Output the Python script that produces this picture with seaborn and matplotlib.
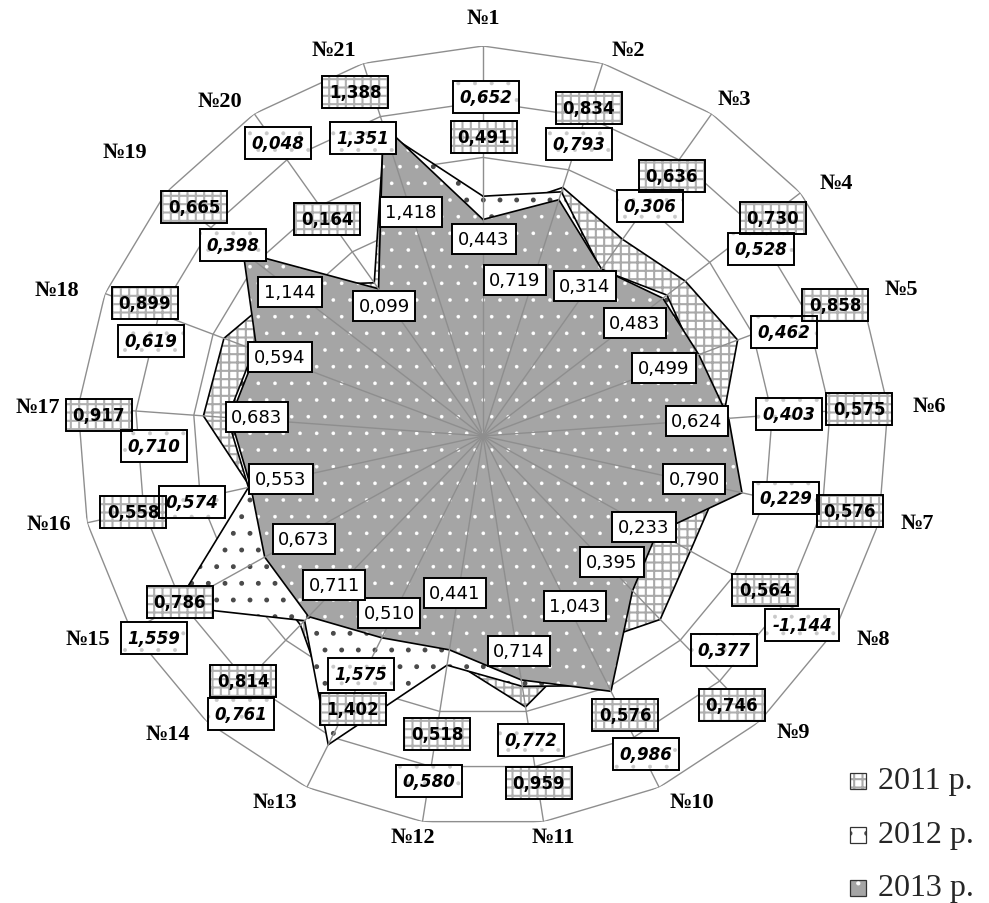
import numpy as np
import matplotlib
matplotlib.use("Agg")
import matplotlib.pyplot as plt
from matplotlib.patches import Rectangle
import seaborn as sns

# ---------------- data ----------------
categories = [f"№{i}" for i in range(1, 22)]
v2011 = [0.491, 0.834, 0.636, 0.730, 0.858, 0.575, 0.576, 0.564, 0.746, 0.576, 0.959,
         0.518, 1.402, 0.814, 0.786, 0.558, 0.917, 0.899, 0.665, 0.164, 1.388]
v2012 = [0.652, 0.793, 0.306, 0.528, 0.462, 0.403, 0.229, -1.144, 0.377, 0.986, 0.772,
         0.580, 1.575, 0.761, 1.559, 0.574, 0.710, 0.619, 0.398, 0.048, 1.351]
v2013 = [0.443, 0.719, 0.314, 0.483, 0.499, 0.624, 0.790, 0.233, 0.395, 1.043, 0.714,
         0.441, 0.510, 0.711, 0.673, 0.553, 0.683, 0.594, 1.144, 0.099, 1.418]
series_names = ["2011 р.", "2012 р.", "2013 р."]
r_min, r_max, r_step = -1.5, 2.0, 0.5

# ---------------- layout (pixel positions of annotations) ----------------
W, H = 989, 904
cx, cy, rx, ry = 483, 437, 406, 390
pos2013 = [(484, 240), (515, 281), (585, 287), (635, 324), (664, 369), (697, 422), (694, 480),
           (644, 528), (612, 563), (575, 607), (519, 652), (455, 594), (389, 614), (334, 586),
           (304, 540), (281, 480), (257, 418), (280, 358), (290, 293), (384, 307), (411, 213)]
pos2012 = [(486, 98), (579, 145), (650, 207), (761, 250), (784, 333), (789, 415), (786, 499),
           (802, 626), (724, 651), (646, 755), (531, 741), (429, 782), (361, 675), (241, 715),
           (154, 639), (192, 503), (154, 447), (151, 342), (233, 246), (278, 144), (363, 139)]
pos2011 = [(484, 138), (589, 109), (672, 177), (773, 219), (835, 306), (859, 410), (850, 512),
           (765, 591), (732, 706), (625, 716), (539, 784), (437, 735), (353, 710), (243, 682),
           (180, 603), (133, 513), (99, 416), (145, 304), (194, 208), (327, 220), (355, 93)]
cat_pos = [(483, 19), (628, 51), (734, 100), (836, 184), (901, 290), (929, 407), (917, 524),
           (873, 640), (793, 733), (692, 803), (553, 838), (413, 838), (275, 803), (168, 735),
           (88, 640), (49, 525), (38, 408), (57, 291), (125, 153), (220, 102), (334, 51)]

sns.set_style("white")
plt.rcParams["font.family"] = ["DejaVu Sans"]

fig = plt.figure(figsize=(W / 100, H / 100), dpi=100)
fig.patch.set_facecolor("white")

ax = fig.add_axes([(cx - rx) / W, (H - cy - ry) / H, 2 * rx / W, 2 * ry / H],
                  projection="polar")
ax.set_aspect("auto")
ax.set_theta_zero_location("N")
ax.set_theta_direction(-1)
ax.patch.set_alpha(0)
ax.spines["polar"].set_visible(False)
ax.grid(False)

n = len(categories)
theta = np.linspace(0, 2 * np.pi, n + 1)
grid_col = "#8e8e8e"

# rings (value gridlines)
for rv in np.arange(r_min + r_step, r_max + 1e-9, r_step):
    ax.plot(theta, np.full(n + 1, rv), color=grid_col, lw=1.0, zorder=1)

styles = [
    dict(fc="white", hc="#a9a9a9", hatch="++", hlw=1.5),
    dict(fc="white", hc="#4a4a4a", hatch=".", hlw=1.1),
    dict(fc="#a5a5a5", hc="white", hatch=".", hlw=0.2),
]
for k, vals in enumerate([v2011, v2012, v2013]):
    rr = np.array(vals + vals[:1])
    st = styles[k]
    plt.rcParams["hatch.linewidth"] = st["hlw"]
    ax.fill(theta, rr, facecolor=st["fc"], edgecolor=st["hc"], hatch=st["hatch"],
            linewidth=0, zorder=2 + 2 * k)
    sns.lineplot(x=theta, y=rr, sort=False, estimator=None, color="black",
                 linewidth=1.2, ax=ax, zorder=3 + 2 * k)

# spokes on top
for t in theta[:-1]:
    ax.plot([t, t], [r_min, r_max], color=grid_col, lw=1.0, zorder=9)

ax.set_ylim(r_min, r_max)
ax.set_xticks([])
ax.set_yticks([])
ax.set_xlabel("")
ax.set_ylabel("")

# ---------------- overlay for annotations ----------------
ov = fig.add_axes([0, 0, 1, 1], zorder=5)
ov.set_xlim(0, W)
ov.set_ylim(H, 0)
ov.axis("off")
ov.patch.set_alpha(0)


def fmt(v):
    return f"{v:.3f}".replace(".", ",")


def box_label(x, y, s, weight, style, fs, pad, hatch=None, hcolor=None, hlw=1.0):
    kw = dict(ha="center", va="center", fontsize=fs, fontweight=weight,
              fontstyle=style, family="DejaVu Sans")
    if hatch:
        plt.rcParams["hatch.linewidth"] = hlw
        ov.text(x, y, s, color="none", zorder=10,
                bbox=dict(boxstyle=f"square,pad={pad}", fc="white", ec=hcolor,
                          hatch=hatch, lw=0), **kw)
        ov.text(x, y, s, color="black", zorder=11,
                bbox=dict(boxstyle=f"square,pad={pad}", fc="none", ec="black", lw=1.4), **kw)
    else:
        ov.text(x, y, s, color="black", zorder=11,
                bbox=dict(boxstyle=f"square,pad={pad}", fc="white", ec="black", lw=1.4), **kw)


for v, (x, y) in zip(v2013, pos2013):
    box_label(x, y, fmt(v), "normal", "normal", 13, 0.32)
for v, (x, y) in zip(v2012, pos2012):
    box_label(x, y, fmt(v), "bold", "italic", 12, 0.42, hatch=".", hcolor="#c8c8c8", hlw=0.4)
for v, (x, y) in zip(v2011, pos2011):
    box_label(x, y, fmt(v), "bold", "normal", 12, 0.42, hatch="++", hcolor="#b0b0b0", hlw=1.5)

for c, (x, y) in zip(categories, cat_pos):
    ov.text(x, y, c, ha="center", va="center", fontsize=16, fontweight="bold",
            family="Liberation Serif", color="black", zorder=11)

# legend
leg_y = [782, 836, 889]
for k, name in enumerate(series_names):
    st = styles[k]
    y = leg_y[k]
    plt.rcParams["hatch.linewidth"] = max(st["hlw"], 0.6)
    ov.add_patch(Rectangle((850, y - 8), 16, 16, facecolor=st["fc"], edgecolor=st["hc"],
                           hatch=st["hatch"], lw=0, zorder=10))
    ov.add_patch(Rectangle((850, y - 8), 16, 16, facecolor="none", edgecolor="#333333",
                           lw=0.9, zorder=11))
    ov.text(878, y, name, ha="left", va="center", fontsize=23,
            family="Liberation Serif", zorder=11)

fig.savefig("out.png", dpi=100, facecolor="white")
